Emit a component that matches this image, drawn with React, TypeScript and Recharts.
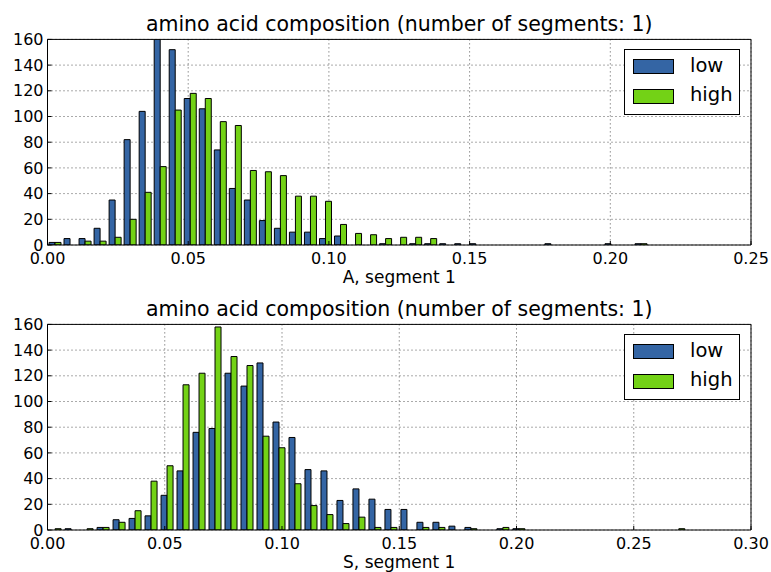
import { BarChart, Bar, XAxis, YAxis, CartesianGrid, Legend } from 'recharts';

// histogram counts per bin (40 bins each)
const lowA = [2, 5, 5, 13, 35, 82, 104, 160, 152, 114, 106, 74, 44, 35, 19, 13, 10, 10, 5, 7, 0, 0, 1, 0, 1, 1, 1, 1, 1, 0, 0, 0, 0, 1, 0, 0, 0, 1, 0, 1];
const highA = [2, 0, 3, 3, 6, 20, 41, 61, 105, 118, 114, 96, 93, 58, 57, 54, 38, 38, 34, 16, 9, 8, 5, 6, 6, 5, 0, 0, 0, 0, 0, 0, 0, 0, 0, 0, 0, 0, 0, 1];
const binWidthA = 0.00534;
const ticksA = [0, 0.05, 0.1, 0.15, 0.2, 0.25];

const lowS = [0, 1, 0, 2, 8, 9, 11, 27, 46, 76, 79, 122, 112, 130, 84, 72, 47, 46, 23, 32, 24, 16, 16, 6, 6, 3, 2, 0, 1, 1, 0, 0, 0, 0, 0, 0, 0, 0, 0, 0];
const highS = [1, 0, 1, 2, 6, 15, 38, 50, 113, 122, 158, 135, 128, 73, 64, 36, 19, 12, 5, 10, 2, 2, 0, 2, 2, 0, 1, 0, 2, 1, 0, 0, 0, 0, 0, 0, 0, 0, 0, 1];
const binWidthS = 0.00682;
const ticksS = [0, 0.05, 0.1, 0.15, 0.2, 0.25, 0.3];

const yTicks = [0, 20, 40, 60, 80, 100, 120, 140, 160];
const seriesNames = ['low', 'high'];
const titleText = 'amino acid composition (number of segments: 1)';

const BLUE = '#3465a4';
const GREEN = '#73d216';
const FONT = '"DejaVu Sans", sans-serif';

const toRows = (low: number[], high: number[], w: number) =>
  low.map((v, i) => ({ x: (i + 0.5) * w, low: v, high: high[i] }));

const LegendBox = (props: any) => {
  // keep the series order (recharts sorts legend items by name)
  const items = [...(props.payload || [])].sort(
    (a: any, b: any) => seriesNames.indexOf(a.value) - seriesNames.indexOf(b.value)
  );
  return (
    <div
      style={{
        position: 'relative',
        width: 116,
        height: 66,
        border: '1px solid #000',
        boxSizing: 'border-box',
        background: '#fff',
        fontFamily: FONT,
      }}
    >
      {items.map((it: any, i: number) => (
        <div key={it.value}>
          <div
            style={{
              position: 'absolute',
              left: 8,
              top: 9 + i * 29.5,
              width: 41,
              height: 15,
              background: it.color,
              border: '1px solid #000',
              boxSizing: 'border-box',
            }}
          />
          <div
            style={{
              position: 'absolute',
              left: 65,
              top: 16.5 + i * 29.5 - 12,
              fontSize: 19.5,
              lineHeight: '22px',
              color: '#000',
            }}
          >
            {it.value}
          </div>
        </div>
      ))}
    </div>
  );
};

interface PanelProps {
  rows: { x: number; low: number; high: number }[];
  ticks: number[];
  xLabel: string;
  top: number;
  height: number;
  marginTop: number;
  marginBottom: number;
}

function Panel({ rows, ticks, xLabel, top, height, marginTop, marginBottom }: PanelProps) {
  const xMax = ticks[ticks.length - 1];
  return (
    <div style={{ position: 'absolute', left: 0, top }}>
      <div
        style={{
          position: 'absolute',
          left: 47.5,
          width: 703.5,
          top: marginTop - 25.7,
          textAlign: 'center',
          fontSize: 20.5,
          lineHeight: '20.5px',
          color: '#000',
          whiteSpace: 'nowrap',
        }}
      >
        {titleText}
      </div>
      <BarChart
        width={771}
        height={height}
        data={rows}
        margin={{ top: marginTop, right: 20, bottom: marginBottom, left: 0 }}
        barCategoryGap="10%"
        barGap={0}
      >
        <CartesianGrid stroke="#555" strokeDasharray="1 3" />
        <XAxis
          dataKey="x"
          type="number"
          domain={[0, xMax]}
          ticks={ticks}
          allowDataOverflow
          height={40}
          tickSize={-4}
          tickMargin={12}
          stroke="#000"
          tick={{ fill: '#000', fontSize: 16 }}
          tickFormatter={(v: number) => v.toFixed(2)}
          label={{ value: xLabel, position: 'insideBottom', offset: 2, fontSize: 17, fill: '#000' }}
        />
        <XAxis
          xAxisId="top"
          orientation="top"
          mirror
          type="number"
          domain={[0, xMax]}
          ticks={ticks}
          allowDataOverflow
          height={4}
          tickSize={4}
          stroke="#000"
          tick={false}
        />
        <YAxis
          domain={[0, 160]}
          ticks={yTicks}
          allowDataOverflow
          width={47.5}
          tickSize={-4}
          tickMargin={8}
          stroke="#000"
          tick={{ fill: '#000', fontSize: 16 }}
        />
        <YAxis
          yAxisId="right"
          orientation="right"
          mirror
          domain={[0, 160]}
          ticks={yTicks}
          allowDataOverflow
          width={4}
          tickSize={4}
          stroke="#000"
          tick={false}
        />
        <Legend
          layout="vertical"
          align="center"
          verticalAlign="middle"
          content={<LegendBox />}
          wrapperStyle={{ left: 624, top: marginTop + 9.8, width: 116, height: 66 }}
        />
        <Bar dataKey="low" name="low" fill={BLUE} stroke="#000" strokeWidth={1} isAnimationActive={false} />
        <Bar dataKey="high" name="high" fill={GREEN} stroke="#000" strokeWidth={1} isAnimationActive={false} />
      </BarChart>
    </div>
  );
}

export default function App() {
  return (
    <div
      style={{
        position: 'absolute',
        left: 0,
        top: 0,
        width: 771,
        height: 572,
        background: '#fff',
        fontFamily: FONT,
        overflow: 'hidden',
      }}
    >
      <Panel
        rows={toRows(lowA, highA, binWidthA)}
        ticks={ticksA}
        xLabel="A, segment 1"
        top={0}
        height={290}
        marginTop={39.4}
        marginBottom={5}
      />
      <Panel
        rows={toRows(lowS, highS, binWidthS)}
        ticks={ticksS}
        xLabel="S, segment 1"
        top={290}
        height={282}
        marginTop={34.4}
        marginBottom={2}
      />
    </div>
  );
}
